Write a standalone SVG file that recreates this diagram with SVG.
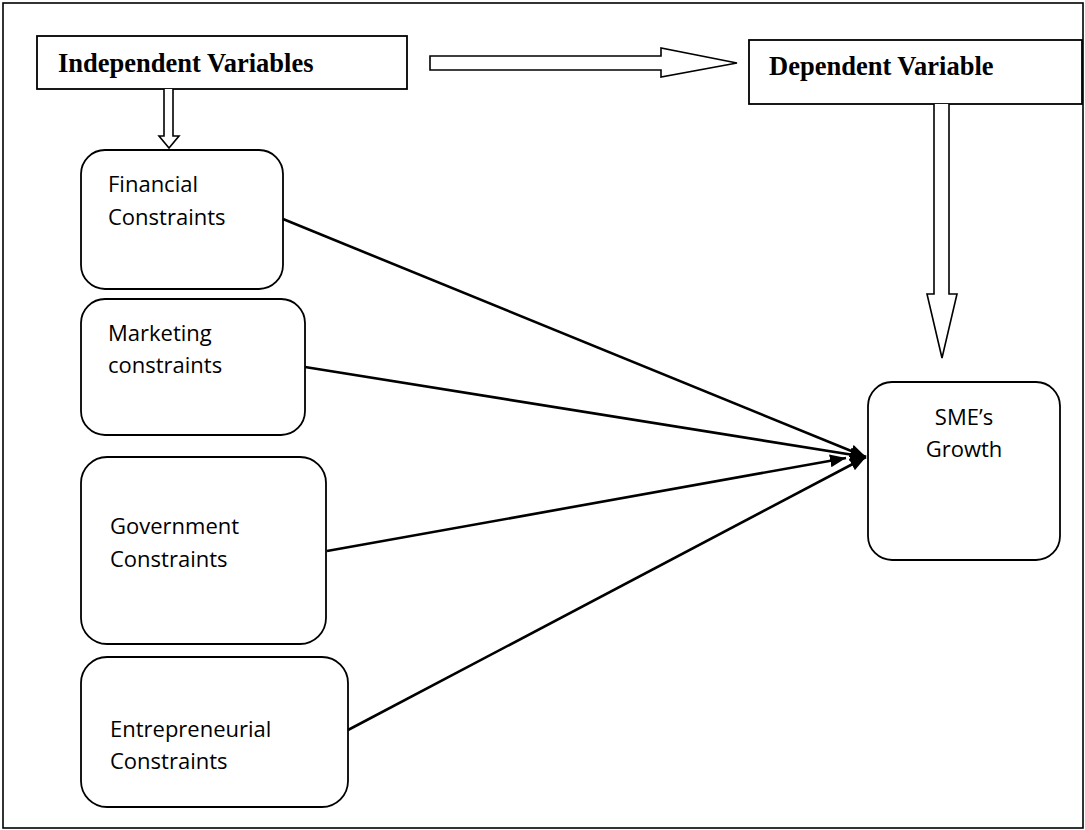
<svg xmlns="http://www.w3.org/2000/svg" width="1085" height="830" viewBox="0 0 1085 830">
<defs>
<marker id="ah" markerUnits="userSpaceOnUse" markerWidth="17" markerHeight="13" refX="16" refY="6.5" orient="auto">
<path d="M0,0 L16,6.5 L0,13 z" fill="#000"/>
</marker>
</defs>
<style>
.frame{fill:#fff;stroke:#000;stroke-width:1.6}
.hdr{fill:#fff;stroke:#000;stroke-width:1.8}
.rbox{fill:#fff;stroke:#000;stroke-width:1.8}
.hd{font-family:"Liberation Serif","Times New Roman",serif;font-weight:bold;font-size:26.5px;fill:#000}
.lb{font-family:"Open Sans","Noto Sans",sans-serif;font-size:22px;fill:#000}
.hollow{fill:#fff;stroke:#000;stroke-width:1.6;stroke-linejoin:miter}
.ln{stroke:#000;stroke-width:2.6;fill:none}
</style>
<rect class="frame" x="3" y="3" width="1080" height="825"/>
<g id="independent">
<rect class="hdr" x="37" y="36" width="370" height="53"/>
<text class="hd" x="58" y="72">Independent Variables</text>
</g>
<g id="dependent">
<rect class="hdr" x="749" y="40" width="333" height="64"/>
<text class="hd" x="769" y="75">Dependent Variable</text>
</g>
<g id="financial">
<rect class="rbox" x="81" y="150" width="202" height="139" rx="24"/>
<text class="lb" x="108" y="192">Financial</text>
<text class="lb" x="108" y="225">Constraints</text>
</g>
<g id="marketing">
<rect class="rbox" x="81" y="299" width="224" height="136" rx="24"/>
<text class="lb" x="108" y="341">Marketing</text>
<text class="lb" x="108" y="373">constraints</text>
</g>
<g id="government">
<rect class="rbox" x="81" y="457" width="245" height="187" rx="26"/>
<text class="lb" x="110" y="534">Government</text>
<text class="lb" x="110" y="567">Constraints</text>
</g>
<g id="entrepreneurial">
<rect class="rbox" x="81" y="657" width="267" height="150" rx="26"/>
<text class="lb" x="110" y="737">Entrepreneurial</text>
<text class="lb" x="110" y="769">Constraints</text>
</g>
<g id="growth">
<rect class="rbox" x="868" y="382" width="192" height="178" rx="24"/>
<text class="lb" x="964" y="425" text-anchor="middle">SME’s</text>
<text class="lb" x="964" y="457" text-anchor="middle">Growth</text>
</g>
<g id="connectors">
<path class="hollow" d="M164,89 L164,136 L159,136 L169,148 L179,136 L173,136 L173,89"/>
<path class="hollow" d="M430,56 L661,56 L661,48 L737,63 L661,77 L661,70 L430,70 Z"/>
<path class="hollow" d="M934,104 L934,294 L927,294 L942,358 L957,294 L949,294 L949,104"/>
<line class="ln" x1="283" y1="219" x2="866" y2="457" marker-end="url(#ah)"/>
<line class="ln" x1="305" y1="367" x2="866" y2="457" marker-end="url(#ah)"/>
<line class="ln" x1="327" y1="551" x2="846" y2="458" marker-end="url(#ah)"/>
<line class="ln" x1="348" y1="730" x2="866" y2="457" marker-end="url(#ah)"/>
</g>
</svg>
